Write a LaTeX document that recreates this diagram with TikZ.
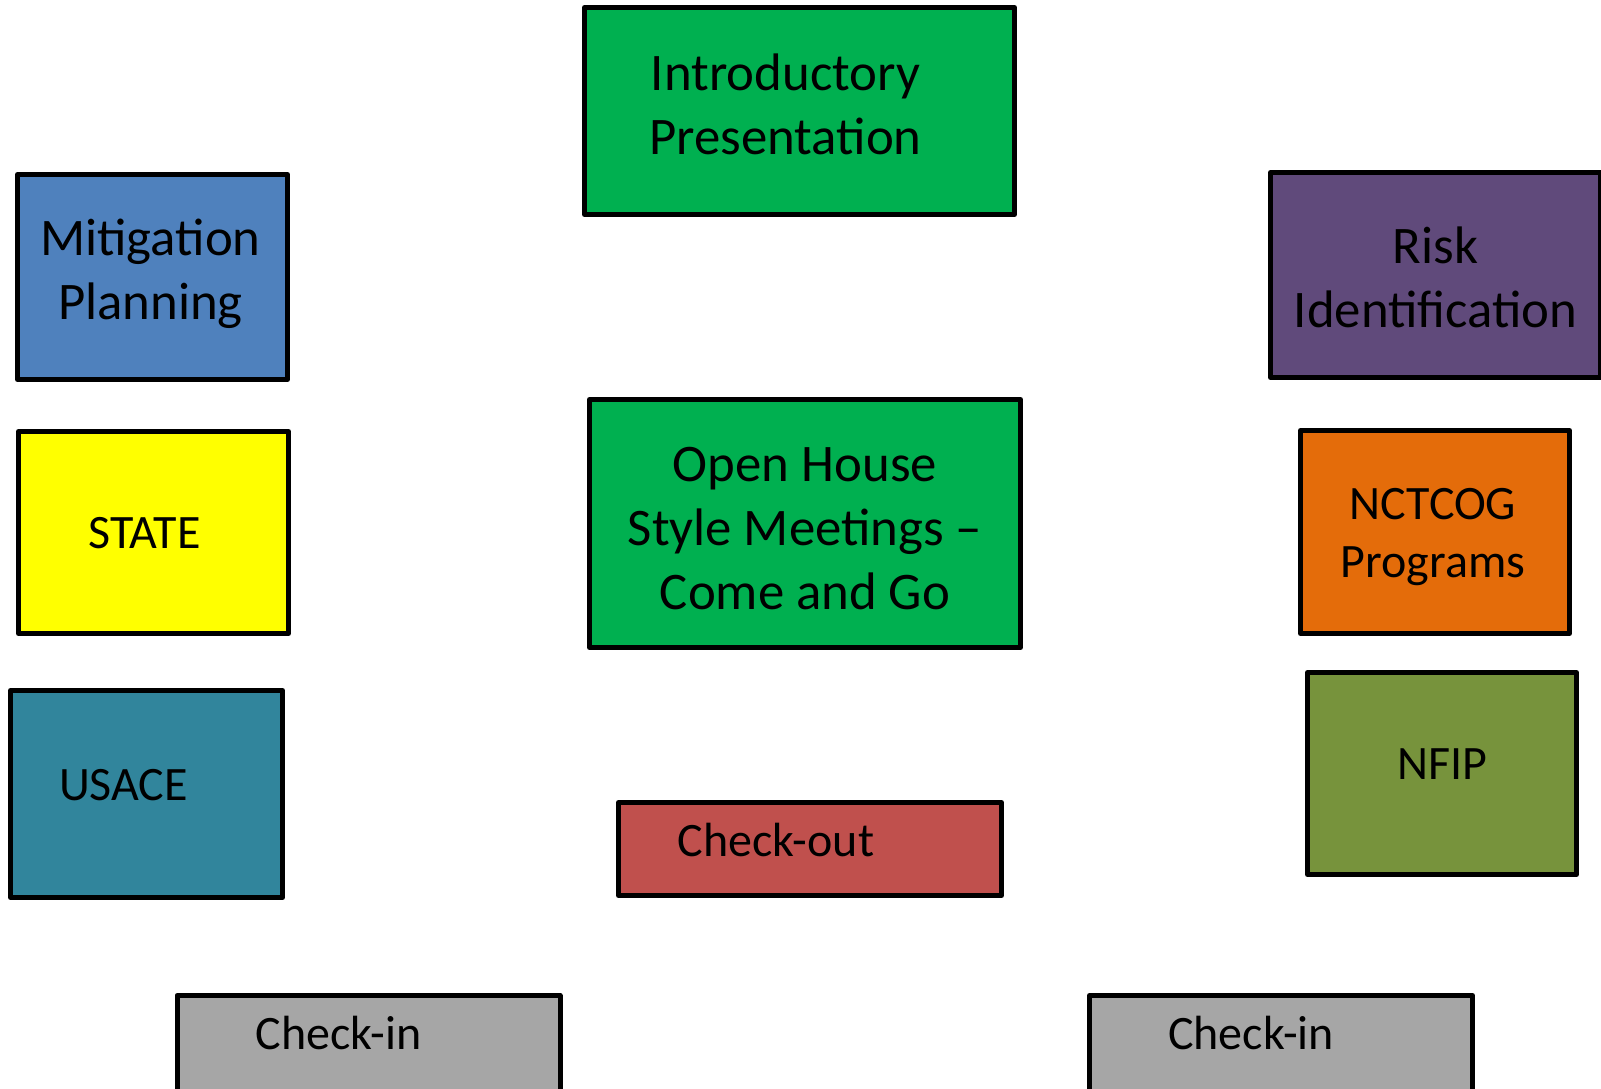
\documentclass[tikz,border=0pt]{standalone}
\usepackage{fontspec}
\setmainfont{Carlito}
\usepackage{tikz}

\definecolor{mgreen}{HTML}{00B050}
\definecolor{mblue}{HTML}{4F81BD}
\definecolor{mpurple}{HTML}{604A7B}
\definecolor{myellow}{HTML}{FFFF00}
\definecolor{morange}{HTML}{E46C0A}
\definecolor{molive}{HTML}{77933C}
\definecolor{mteal}{HTML}{31859C}
\definecolor{mred}{HTML}{C0504D}
\definecolor{mgray}{HTML}{A6A6A6}

\begin{document}
\begin{tikzpicture}[
  x=0.5pt, y=-0.5pt,
  every node/.style={font=\fontsize{24pt}{29pt}\selectfont},
  box/.style={
    rectangle, draw=black, line width=2.5pt,
    line join=round, inner sep=0pt
  },
  sqbox/.style={box, minimum width=135pt, minimum height=102pt},
  chkbox/.style={box, minimum width=191.5pt, minimum height=46.5pt, fill=mgray},
  txt/.style={align=center, inner sep=0pt},
  bigtxt/.style={txt, font=\fontsize{26.4pt}{32pt}\selectfont}
]
\useasboundingbox (0,0) rectangle (1601,1088);
\clip (0,0) rectangle (1601,1088);

% center column
\node[box, fill=mgreen, minimum width=215pt, minimum height=103.5pt] (intro) at (799.5,111) {};
\node[bigtxt] (introtxt) at ([shift={(-14,-7)}]intro.center) {Introductory\\Presentation};

\node[box, fill=mgreen, minimum width=215.5pt, minimum height=124pt] (openhouse) at (805,523.5) {};
\node[bigtxt] (openhousetxt) at ([shift={(0,5)}]openhouse.center) {Open House\\Style Meetings --\\Come and Go};

\node[chkbox, fill=mred] (checkout) at (810,849) {};
\node[txt] (checkouttxt) at ([shift={(-34,-9)}]checkout.center) {Check-out};

% left column
\node[sqbox, fill=mblue, minimum height=102.5pt] (mitig) at (152.5,277) {};
\node[bigtxt] (mitigtxt) at ([shift={(-2,-3)}]mitig.center) {Mitigation\\Planning};

\node[sqbox, fill=myellow, minimum height=101pt] (state) at (153.5,532.5) {};
\node[txt] (statetxt) at ([shift={(-9,1)}]state.center) {STATE};

\node[sqbox, fill=mteal, minimum width=136pt, minimum height=103.5pt] (usace) at (146.5,794) {};
\node[txt] (usacetxt) at ([shift={(-23,-9)}]usace.center) {USACE};

% right column
\node[sqbox, fill=mpurple, minimum width=165pt, minimum height=102.5pt] (risk) at (1435.5,275) {};
\node[bigtxt] (risktxt) at ([shift={(0,2)}]risk.center) {Risk\\Identification};

\node[sqbox, fill=morange, minimum width=134.5pt, minimum height=101.5pt] (nctcog) at (1435,532) {};
\node[txt] (nctcogtxt) at ([shift={(-2,5)}]nctcog.center) {NCTCOG\\Programs};

\node[sqbox, fill=molive, minimum width=134.5pt, minimum height=101pt] (nfip) at (1442,773.5) {};
\node[txt] (nfiptxt) at ([shift={(0,-9)}]nfip.center) {NFIP};

% bottom row (cut off by the page edge)
\node[chkbox, minimum height=60pt] (checkinl) at (368.5,1055.5) {};
\node[txt] (checkinltxt) at ([shift={(-30,-22.5)}]checkinl.center) {Check-in};

\node[chkbox, minimum height=60pt] (checkinr) at (1281,1055.5) {};
\node[txt] (checkinrtxt) at ([shift={(-30,-22.5)}]checkinr.center) {Check-in};

\end{tikzpicture}
\end{document}
